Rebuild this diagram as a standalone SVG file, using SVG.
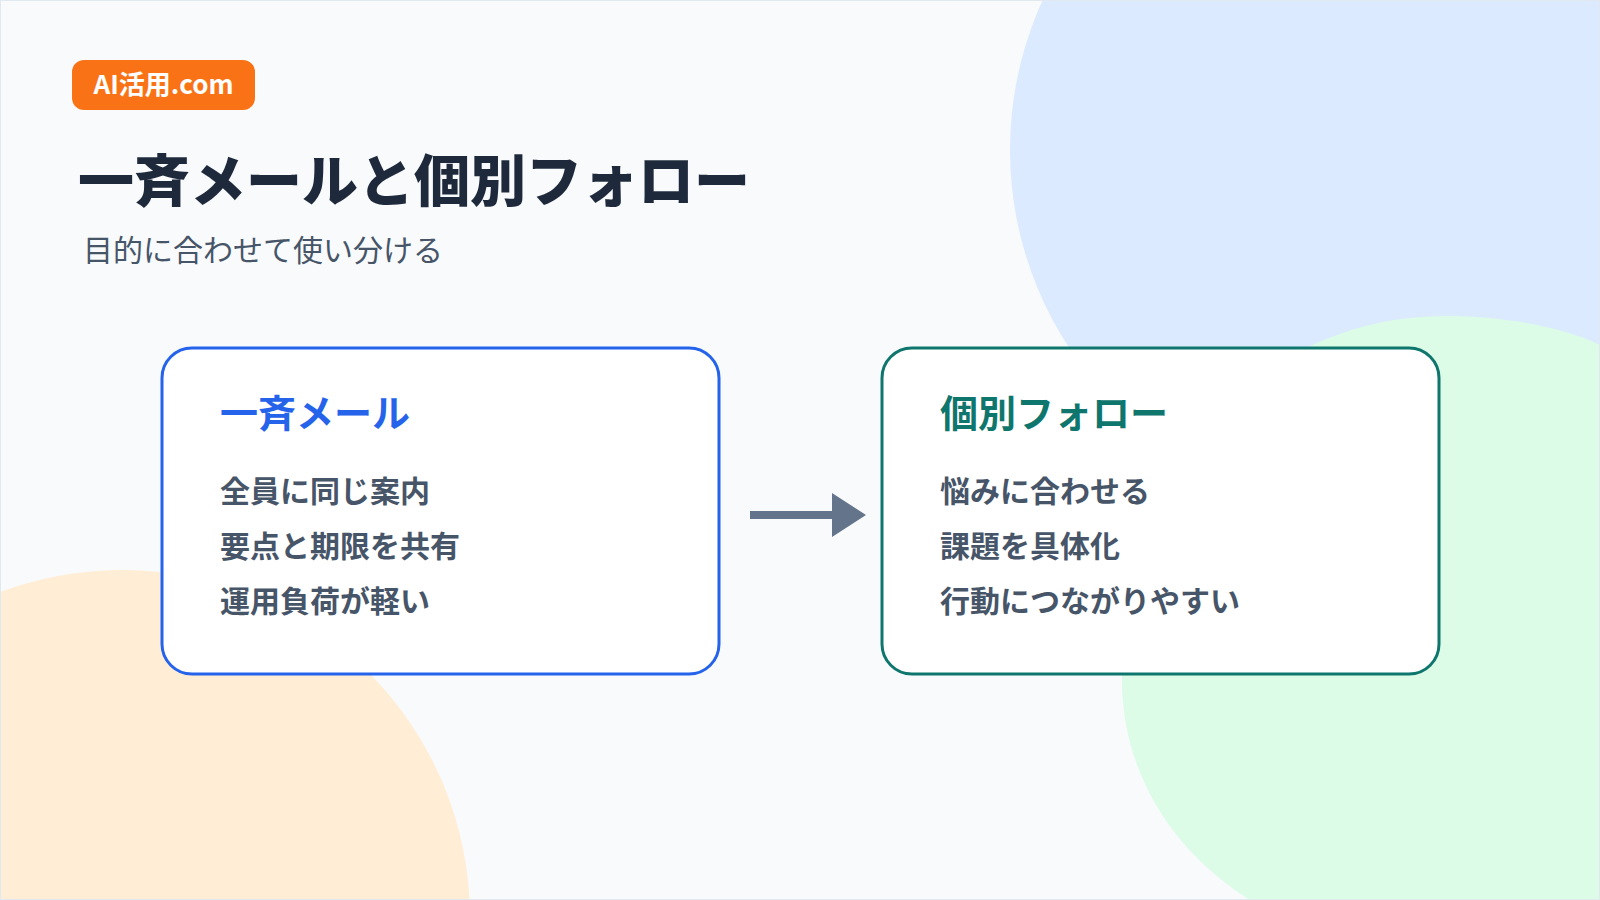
<svg xmlns="http://www.w3.org/2000/svg" width="1600" height="900" viewBox="0 0 1600 900">
<style>
text{font-family:"Noto Sans CJK JP","Noto Sans",sans-serif}
.box{fill:#fff;stroke-width:3}
.item{font-size:30px;font-weight:700;fill:#475569}
.bt{font-size:38px;font-weight:700}
</style>
<defs><clipPath id="c"><rect x="0" y="0" width="1600" height="900"/></clipPath></defs>
<rect width="1600" height="900" fill="#f8fafc"/>
<g clip-path="url(#c)">
<circle cx="1370" cy="150" r="360" fill="#dbeafe"/>
<path d="M1600,345 C1560,326 1500,316 1447,316 C1250,316 1122,480 1122,680 C1122,770 1170,850 1250,900 L1600,900 Z" fill="#dcfce7"/>
<circle cx="122" cy="918" r="348" fill="#ffedd5"/>
</g>
<rect x="0.5" y="0.5" width="1599" height="899" fill="none" stroke="#e2e8f0"/>
<g id="badge"><rect x="72" y="60" width="183" height="50" rx="12" fill="#f97316"/>
<text x="163.5" y="94" text-anchor="middle" font-size="26" font-weight="700" fill="#fff">AI活用.com</text></g>
<g id="title"><text x="78" y="201" font-size="56" font-weight="900" fill="#1e293b">一斉メールと個別フォロー</text>
<text x="83" y="261" font-size="30" fill="#475569">目的に合わせて使い分ける</text></g>
<g id="connectors"><path d="M750 511H832V493L866 515L832 537V519H750Z" fill="#64748b"/></g>
<g id="node-mass"><rect class="box" x="162" y="348" width="557" height="326" rx="30" stroke="#2563eb"/>
<text class="bt" x="220" y="427" fill="#2563eb">一斉メール</text>
<text class="item" x="220" y="502">全員に同じ案内</text>
<text class="item" x="220" y="557">要点と期限を共有</text>
<text class="item" x="220" y="612">運用負荷が軽い</text></g>
<g id="node-individual"><rect class="box" x="882" y="348" width="557" height="326" rx="30" stroke="#0f766e"/>
<text class="bt" x="940" y="427" fill="#0f766e">個別フォロー</text>
<text class="item" x="940" y="502">悩みに合わせる</text>
<text class="item" x="940" y="557">課題を具体化</text>
<text class="item" x="940" y="612">行動につながりやすい</text></g>
</svg>
